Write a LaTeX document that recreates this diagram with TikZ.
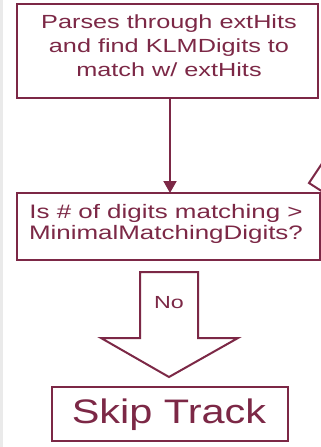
\documentclass[tikz,border=0pt]{standalone}
\usepackage{fontspec}
\setmainfont{Liberation Sans}
\newfontfamily\flowfont[FakeStretch=1.33]{Liberation Sans}
\newfontfamily\bigfont[FakeStretch=1.22]{Liberation Sans}
\usetikzlibrary{arrows.meta}
\definecolor{maroon}{RGB}{124,40,70}
\definecolor{edgegray}{RGB}{234,234,234}
\tikzset{
  flowbox/.style={draw=maroon, line width=2pt, inner sep=0pt},
  flowtext/.style={text=maroon, align=center, inner sep=0pt},
  flowline/.style={draw=maroon, line width=2pt},
}
\begin{document}
\begin{tikzpicture}[x=1pt, y=-1pt]
  \useasboundingbox (0,0) rectangle (321,447);
  \fill[white] (0,0) rectangle (321,447);
  \fill[edgegray] (0,0) rectangle (3,447);

  % process box
  \draw[flowbox] (17,4) rectangle (318,98);
  \coordinate (parseN) at (169,4);
  \coordinate (parseS) at (170,98);
  \node[flowtext, font=\flowfont\fontsize{19}{24}\selectfont] (parse) at (169,46)
    {Parses through extHits\\and find KLMDigits to\\match w/ extHits};

  % decision box
  \draw[flowbox] (17,193) rectangle (320,260);
  \coordinate (checkN) at (170,193);
  \node[flowtext, font=\flowfont\fontsize{19.5}{21.5}\selectfont] (check) at (166,224)
    {Is \# of digits matching >\\MinimalMatchingDigits?};

  \draw[flowline, -{Triangle[width=13pt,length=12pt]}] (parseS) -- (checkN);

  % partly visible return arrow at the right edge
  \draw[flowline, line join=miter] (323,162) -- (309,183) -- (323,192);

  % block arrow for the "No" branch
  \draw[flowline, line join=miter]
    (140,272) -- (198,272) -- (198,338) -- (238,338) -- (169,377)
    -- (101,338) -- (140,338) -- cycle;
  \node[flowtext, font=\flowfont\fontsize{17.5}{20}\selectfont] (no) at (169,303) {No};

  % terminal box
  \draw[flowbox] (52,387) rectangle (288,441);
  \node[flowtext, font=\bigfont\fontsize{34}{40}\selectfont] (skip) at (169,415) {Skip Track};
\end{tikzpicture}
\end{document}
